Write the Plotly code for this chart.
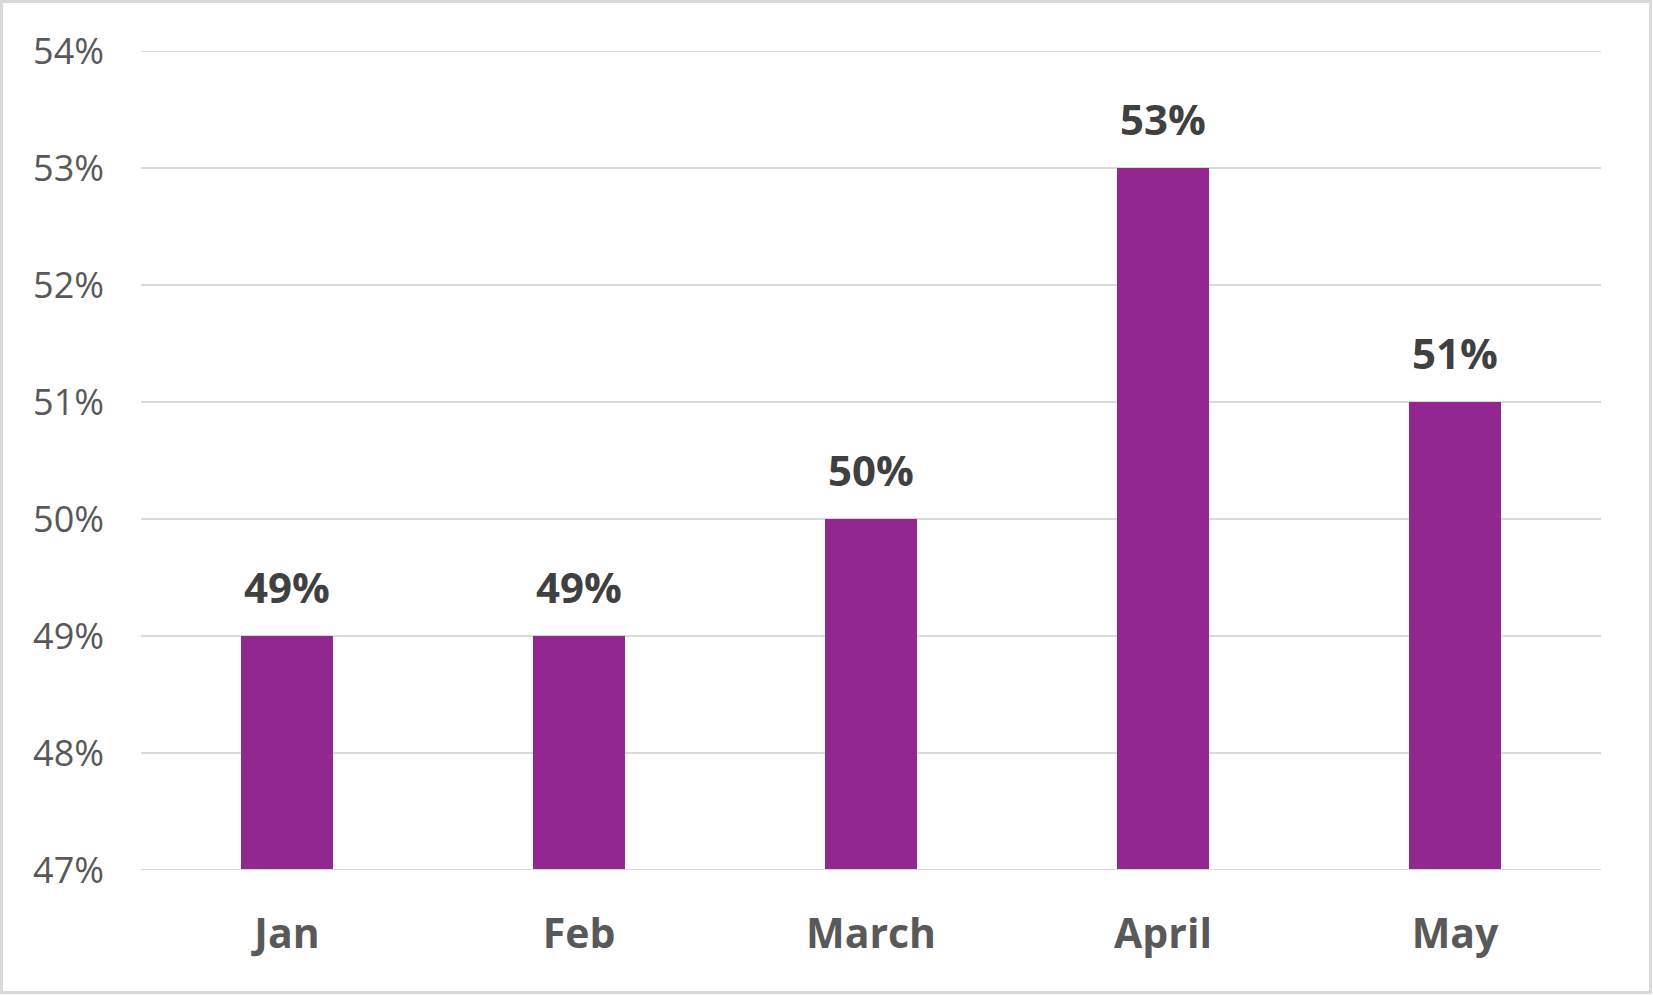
import plotly.graph_objects as go

categories = ["Jan", "Feb", "March", "April", "May"]
values = [49, 49, 50, 53, 51]
labels = ["49%", "49%", "50%", "53%", "51%"]
tick_vals = [47, 48, 49, 50, 51, 52, 53, 54]
tick_text = ["47%", "48%", "49%", "50%", "51%", "52%", "53%", "54%"]
base_value = 47

W, H = 1653, 995
ML, MR, MT, MB = 141, 52, 51, 125

fig = go.Figure()
fig.add_trace(go.Bar(
    x=categories, y=[v - base_value for v in values], base=base_value,
    marker=dict(color="#92278f", line=dict(width=0)),
    hoverinfo="skip",
))

for c, v, t in zip(categories, values, labels):
    fig.add_annotation(
        x=c, y=v, text=t, showarrow=False,
        yanchor="bottom", yshift=19,
        font=dict(family="Open Sans", size=42, color="#404040", weight="bold"),
    )

# edge gridlines (plotly hides gridlines lying on the plot edges)
fig.add_shape(type="line", xref="paper", yref="y", x0=0, x1=1,
              y0=tick_vals[-1], y1=tick_vals[-1],
              line=dict(color="#d9d9d9", width=2), layer="below")
fig.add_shape(type="line", xref="paper", yref="y", x0=0, x1=1,
              y0=tick_vals[0], y1=tick_vals[0],
              line=dict(color="#d9d9d9", width=2), layer="above")

pw = W - ML - MR
ph = H - MT - MB
fig.add_shape(
    type="rect", xref="paper", yref="paper",
    x0=(1.5 - ML) / pw, x1=(W - 2.5 - ML) / pw,
    y0=(H - MB - (H - 2.5)) / ph, y1=(H - MB - 1.5) / ph,
    line=dict(color="#d9d9d9", width=3), fillcolor="rgba(0,0,0,0)",
    layer="below",
)

fig.update_layout(
    width=W, height=H,
    margin=dict(l=ML, r=MR, t=MT, b=MB),
    paper_bgcolor="white", plot_bgcolor="white",
    bargap=0.685, showlegend=False,
    xaxis=dict(
        showgrid=False, showline=False, zeroline=False, ticks="",
        tickfont=dict(family="Open Sans", size=41, color="#595959", weight="bold"),
        ticklabelstandoff=36,
    ),
    yaxis=dict(
        range=[47, 54], tickvals=tick_vals, ticktext=tick_text,
        showgrid=True, gridcolor="#d9d9d9", gridwidth=2,
        zeroline=False, showline=False, ticks="",
        tickfont=dict(family="Open Sans", size=36, color="#595959"),
        ticklabelstandoff=36,
    ),
)

fig.write_html(
    "out.html",
    config={"displayModeBar": False},
    post_script="document.body.style.margin='0';document.body.style.overflow='hidden';",
)
